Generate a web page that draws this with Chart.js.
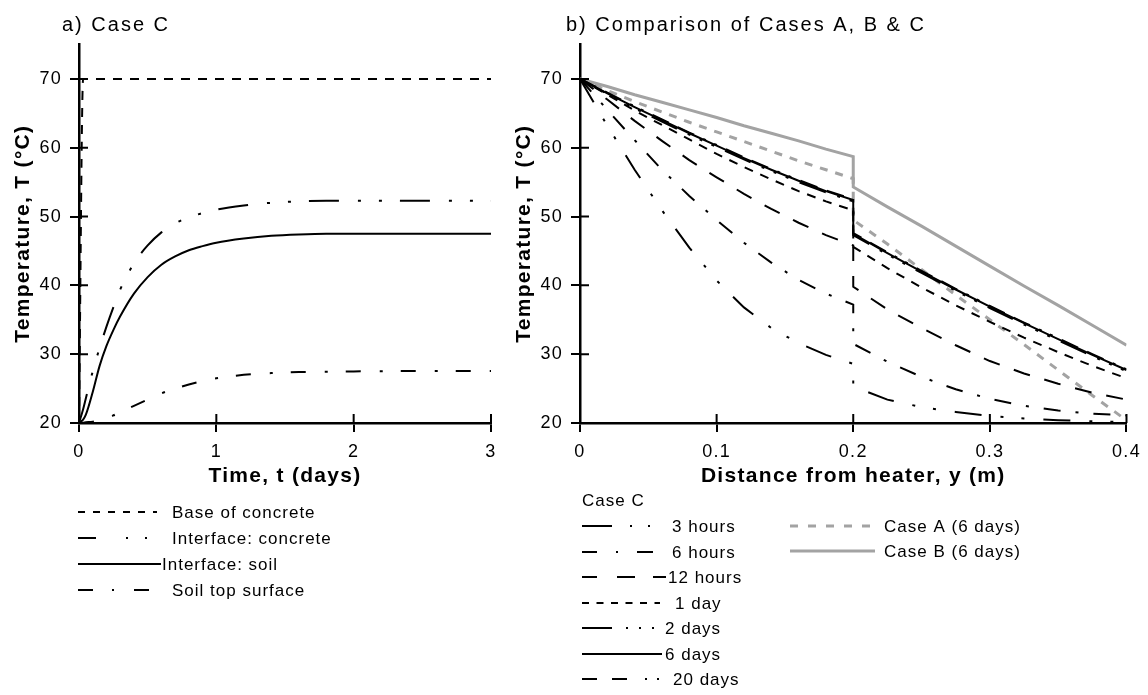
<!DOCTYPE html>
<html lang="en">
<head>
<meta charset="UTF-8">
<title>Case C temperatures</title>
<script src="https://cdn.jsdelivr.net/npm/chart.js"></script>
<style>
  html, body { margin: 0; padding: 0; background: #fff; }
  #wrap { position: relative; width: 1148px; height: 695px; }
  #wrap canvas { position: absolute; top: 0; }
  #chartA { left: 0; }
  #chartB { left: 495px; }
</style>
</head>
<body>
<div id="wrap">
  <canvas id="chartA" width="520" height="695"></canvas>
  <canvas id="chartB" width="653" height="695"></canvas>
</div>
<script>
// a) temperature history (days) at four levels, Case C
const timeDays = [0, 0.03, 0.05, 0.1, 0.15, 0.2, 0.25, 0.3, 0.4, 0.5, 0.6, 0.7, 0.8, 0.9, 1.0, 1.2, 1.4, 1.6, 1.8, 2.0, 2.5, 3.0];
const baseOfConcrete = [20, 70, 70, 70, 70, 70, 70, 70, 70, 70, 70, 70, 70, 70, 70, 70, 70, 70, 70, 70, 70, 70];
const interfaceConcrete = [20, 22.0, 23.6, 27.5, 30.9, 34.0, 36.8, 39.4, 43.2, 45.8, 47.7, 49.0, 49.9, 50.5, 51.0, 51.6, 52.0, 52.2, 52.3, 52.3, 52.3, 52.3];
const interfaceSoil = [20, 20.5, 21.2, 24.5, 28.3, 31.2, 33.5, 35.5, 38.8, 41.2, 43.0, 44.2, 45.1, 45.7, 46.2, 46.8, 47.2, 47.4, 47.5, 47.5, 47.5, 47.5];
const soilTopSurface = [20, 20.05, 20.1, 20.2, 20.45, 20.7, 21.1, 21.6, 22.5, 23.4, 24.3, 25.0, 25.6, 26.1, 26.5, 27.0, 27.25, 27.4, 27.45, 27.5, 27.55, 27.55];
const timeTicks = [0, 1, 2, 3];

// b) temperature profiles; 0.2 m appears twice for the step at the concrete/soil interface
const distance = [0, 0.02, 0.04, 0.06, 0.08, 0.1, 0.12, 0.14, 0.16, 0.18, 0.2,
                  0.2, 0.225, 0.25, 0.275, 0.3, 0.325, 0.35, 0.375, 0.4];
const hours3 = [70, 63.2, 56.8, 50.9, 45.5, 40.7, 36.8, 33.8, 31.6, 29.9, 28.6, 25.3, 23.4, 22.3, 21.6, 21.0, 20.65, 20.4, 20.25, 20.15];
const hours6 = [70, 65.5, 61.1, 56.8, 53.0, 49.5, 46.2, 43.3, 40.8, 38.8, 37.2, 31.5, 28.9, 26.7, 24.9, 23.5, 22.5, 21.8, 21.35, 21.1];
const hours12 = [70, 67.0, 63.9, 61.0, 58.2, 55.7, 53.3, 51.1, 49.1, 47.3, 45.8, 39.8, 36.5, 33.8, 31.3, 29.0, 27.2, 25.7, 24.4, 23.4];
const day1 = [70, 67.7, 65.4, 63.3, 61.2, 59.1, 57.2, 55.4, 53.7, 52.2, 50.9, 45.6, 42.5, 39.7, 37.1, 34.7, 32.4, 30.3, 28.3, 26.5];
const days2 = [70, 67.8, 65.7, 63.8, 61.9, 60.1, 58.3, 56.6, 55.0, 53.5, 52.2, 47.3, 44.5, 41.8, 39.2, 36.7, 34.3, 32.0, 29.7, 27.5];
const days6 = [70, 67.9, 65.9, 64.0, 62.1, 60.3, 58.5, 56.8, 55.2, 53.7, 52.4, 47.5, 44.7, 42.0, 39.4, 36.9, 34.5, 32.2, 29.9, 27.7];
const days20 = [70, 68.0, 66.0, 64.1, 62.2, 60.4, 58.6, 56.9, 55.3, 53.8, 52.5, 47.6, 44.8, 42.1, 39.5, 37.0, 34.6, 32.3, 30.0, 27.8];
const caseA6days = [70, 68.3, 66.7, 65.2, 63.7, 62.3, 60.9, 59.5, 58.1, 56.8, 55.5, 49.5, 46.0, 42.3, 38.6, 35.0, 31.4, 27.7, 24.0, 20.4];
const caseB6days = [70, 68.9, 67.7, 66.6, 65.5, 64.4, 63.2, 62.1, 61.0, 59.8, 58.7, 54.3, 51.4, 48.6, 45.7, 42.8, 39.9, 37.1, 34.2, 31.3];
const distanceTicks = [0, 0.1, 0.2, 0.3, 0.4];

const tempTicks = [20, 30, 40, 50, 60, 70];

const FONT = "'Liberation Sans', Arial, sans-serif";
const GREY = '#a3a3a3';

Chart.defaults.font.family = FONT;
Chart.defaults.color = '#000';

const pts = (xs, ys) => xs.map((x, i) => ({ x: x, y: ys[i] }));

function line(label, xs, ys, dash, key, extra) {
  return Object.assign({
    label: label,
    data: pts(xs, ys),
    borderColor: '#000',
    borderWidth: 2,
    borderDash: dash,
    borderCapStyle: 'butt',
    pointRadius: 0,
    fill: false,
    key: key
  }, extra || {});
}

function fixedTicks(values) {
  return scale => { scale.ticks = values.map(v => ({ value: v })); };
}

function scales(xMin, xMax, xTicks, xTitle, yWidth, yTitlePad) {
  const tickFont = { size: 18 };
  const titleFont = { size: 21, weight: 'bold' };
  const grid = { drawOnChartArea: false, color: '#000', lineWidth: 2, tickLength: 9 };
  const border = { color: '#000', width: 2.5 };
  return {
    x: {
      type: 'linear', min: xMin, max: xMax,
      afterBuildTicks: fixedTicks(xTicks),
      afterFit: s => { s.height = 70; },
      border: border, grid: grid,
      ticks: { font: tickFont, padding: 9, maxRotation: 0, autoSkip: false, callback: v => String(v) },
      title: { display: true, text: xTitle, font: titleFont, padding: { top: 0, bottom: 4 } }
    },
    y: {
      type: 'linear', min: 20, max: 75,
      afterBuildTicks: fixedTicks(tempTicks),
      afterFit: s => { s.width = yWidth; },
      border: border, grid: grid,
      ticks: { font: tickFont, padding: 8, callback: v => String(v) },
      title: { display: true, text: 'Temperature, T (°C)', font: titleFont, padding: { top: yTitlePad, bottom: 0 } }
    }
  };
}

// tick marks cross the axes: draw the inner halves, then headings and keys
const panelDecor = {
  id: 'panelDecor',
  beforeDraw(chart) {
    chart.ctx.letterSpacing = '1.3px';
  },
  afterDraw(chart, args, opts) {
    const ctx = chart.ctx;
    const a = chart.chartArea;
    const sx = chart.scales.x, sy = chart.scales.y;
    ctx.save();
    ctx.strokeStyle = '#000';
    ctx.lineWidth = 2;
    ctx.beginPath();
    sx.ticks.forEach(t => {
      const px = sx.getPixelForValue(t.value);
      ctx.moveTo(px, a.bottom); ctx.lineTo(px, a.bottom - 9);
    });
    sy.ticks.forEach(t => {
      const py = sy.getPixelForValue(t.value);
      ctx.moveTo(a.left, py); ctx.lineTo(a.left + 9, py);
    });
    ctx.stroke();

    ctx.fillStyle = '#000';
    ctx.textBaseline = 'middle';
    ctx.textAlign = 'left';
    ctx.letterSpacing = '2px';
    ctx.font = '20px ' + FONT;
    ctx.fillText(opts.heading, opts.headingX, 25);

    ctx.letterSpacing = '1px';
    ctx.font = '17px ' + FONT;
    if (opts.keyTitle) ctx.fillText(opts.keyTitle, opts.keyTitleX, opts.keyTitleY);
    chart.data.datasets.forEach(ds => {
      const k = ds.key;
      ctx.save();
      ctx.strokeStyle = ds.borderColor;
      ctx.lineWidth = ds.borderWidth;
      ctx.setLineDash(k.dash);
      ctx.beginPath();
      ctx.moveTo(k.x0, k.y); ctx.lineTo(k.x1, k.y);
      ctx.stroke();
      ctx.restore();
      ctx.fillText(ds.label, k.tx, k.y + 1);
    });
    ctx.restore();
  }
};

new Chart(document.getElementById('chartA'), {
  type: 'line',
  data: {
    datasets: [
      line('Base of concrete', timeDays, baseOfConcrete, [9, 8],
        { x0: 78, x1: 157, y: 512, tx: 172, dash: [7, 8] }),
      line('Interface: concrete', timeDays, interfaceConcrete, [30, 19, 3, 18, 3, 18],
        { x0: 78, x1: 149, y: 538, tx: 172, dash: [18, 30, 2, 17, 2, 100] }),
      line('Interface: soil', timeDays, interfaceSoil, [],
        { x0: 78, x1: 161, y: 564, tx: 162, dash: [] }),
      line('Soil top surface', timeDays, soilTopSurface, [15, 19, 3, 18],
        { x0: 78, x1: 150, y: 590, tx: 172, dash: [15, 19, 2, 20, 15, 100] })
    ]
  },
  options: {
    responsive: false,
    animation: false,
    devicePixelRatio: 1,
    cubicInterpolationMode: 'monotone',
    layout: { padding: { left: 0, top: 44.5, right: 29, bottom: 202 } },
    scales: scales(0, 3, timeTicks, 'Time, t (days)', 79, 10.4),
    plugins: {
      legend: { display: false },
      tooltip: { enabled: false },
      panelDecor: { heading: 'a) Case C', headingX: 62 }
    }
  },
  plugins: [panelDecor]
});

new Chart(document.getElementById('chartB'), {
  type: 'line',
  data: {
    datasets: [
      line('3 hours', distance, hours3, [27, 19, 3, 18, 3, 19],
        { x0: 87, x1: 155, y: 526, tx: 177, dash: [30, 18, 2, 16, 2, 100] }),
      line('6 hours', distance, hours6, [17, 15, 3, 15],
        { x0: 87, x1: 158, y: 552, tx: 177, dash: [15, 19, 2, 19, 16, 100] }),
      line('12 hours', distance, hours12, [17, 15],
        { x0: 87, x1: 171, y: 577, tx: 173, dash: [15, 20, 18, 18, 13, 100] }),
      line('1 day', distance, day1, [9, 8],
        { x0: 87, x1: 165, y: 603, tx: 180, dash: [7, 7.5] }),
      line('2 days', distance, days2, [28, 12, 3, 10, 3, 10, 3, 12],
        { x0: 87, x1: 160, y: 628, tx: 170, dash: [30, 14, 2, 11, 2, 11, 2, 100] }, { order: 1 }),
      line('6 days', distance, days6, [],
        { x0: 87, x1: 167, y: 654, tx: 170, dash: [] }),
      line('20 days', distance, days20, [18, 10, 18, 10, 3, 9, 3, 10],
        { x0: 87, x1: 164, y: 679, tx: 178, dash: [15, 15, 15, 18, 2, 10, 2, 100] }, { order: 1 }),
      line('Case A (6 days)', distance, caseA6days, [8, 8],
        { x0: 295, x1: 375, y: 526, tx: 389, dash: [8, 10] }, { borderColor: GREY, borderWidth: 3, order: 2 }),
      line('Case B (6 days)', distance, caseB6days, [],
        { x0: 295, x1: 380, y: 551, tx: 389, dash: [] }, { borderColor: GREY, borderWidth: 3, order: 2 })
    ]
  },
  options: {
    responsive: false,
    animation: false,
    devicePixelRatio: 1,
    tension: 0,
    layout: { padding: { left: 0, top: 44.5, right: 19.3, bottom: 202 } },
    scales: scales(0, 0.4, distanceTicks, 'Distance from heater, y (m)', 85, 16.4),
    plugins: {
      legend: { display: false },
      tooltip: { enabled: false },
      panelDecor: { heading: 'b) Comparison of Cases A, B & C', headingX: 71,
                    keyTitle: 'Case C', keyTitleX: 87, keyTitleY: 501 }
    }
  },
  plugins: [panelDecor]
});
</script>
</body>
</html>
